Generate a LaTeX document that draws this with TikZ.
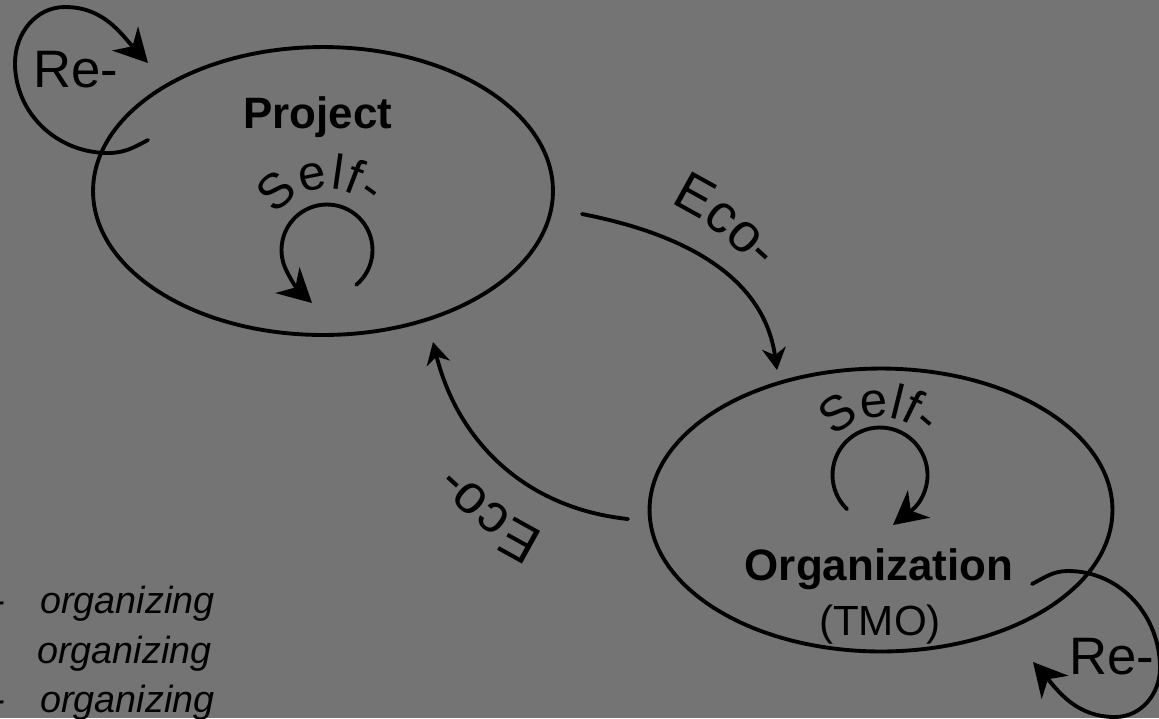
\documentclass[tikz,border=0pt]{standalone}
\usepackage{fontspec}
\setmainfont{Liberation Sans}
\usetikzlibrary{arrows.meta,shapes.geometric,decorations.text}
\definecolor{bgc}{RGB}{116,116,116}
\newcommand\selff{\fontsize{28pt}{32pt}\selectfont}
\newcommand\ecof{\fontsize{31pt}{35pt}\selectfont}
\tikzset{
  ln/.style={line width=2.2pt, draw=black, line cap=round},
  bigtip/.style={-{Stealth[length=19pt,width=20pt,inset=6pt]}},
  ecotip/.style={-{Stealth[length=12.5pt,width=13.5pt,inset=4pt]}},
  oval/.style={ellipse, draw=black, line width=2.2pt, inner sep=0pt},
  title/.style={inner sep=0pt, font=\fontsize{25pt}{29pt}\selectfont\bfseries},
  sub/.style={inner sep=0pt, font=\fontsize{24pt}{28pt}\selectfont},
  relbl/.style={inner sep=0pt, font=\fontsize{30pt}{34pt}\selectfont},
  leg/.style={inner sep=0pt, font=\fontsize{21.5pt}{25pt}\selectfont\itshape},
  arctext/.style={decorate, decoration={text along path, text={#1}, text align={fit to path}}}
}
\begin{document}
\begin{tikzpicture}[x=0.02cm, y=0.02cm]
\useasboundingbox (0,0) rectangle (1159,-718);
\fill[bgc] (0,0) rectangle (1159,-718);
\clip (0,0) rectangle (1159,-718);

% main ellipses
\node[oval, minimum width=9.2cm, minimum height=5.76cm] (proj) at (323,-191) {};
\node[oval, minimum width=9.26cm, minimum height=5.66cm] (org) at (881,-510) {};

% titles
\node[title, anchor=base] (projt) at (318,-128) {Project};
\node[title, anchor=base] (orgt) at (879,-580) {Organization};
\node[sub, anchor=base] (tmo) at (880,-635) {(TMO)};

% self loops
\coordinate (pLc) at (327,-250);
\coordinate (pLe) at (312,-303);
\draw[ln, bigtip] (pLc) ++(-50:0.91cm) arc[start angle=-50, end angle=205, radius=0.91cm]
   to[out=295, in=137] (pLe);
\path[arctext={|\selff|Self-}] (pLc) ++(146:1.22cm) arc[start angle=146, end angle=46, radius=1.22cm];

\coordinate (oLc) at (880,-475);
\coordinate (oLe) at (893,-525);
\draw[ln, bigtip] (oLc) ++(226:0.95cm) arc[start angle=226, end angle=-15, radius=0.95cm]
   to[out=-105, in=39] (oLe);
\path[arctext={|\selff|Self-}] (oLc) ++(141:1.16cm) arc[start angle=141, end angle=45, radius=1.16cm];

% re loops
\coordinate (reAs) at (148,-140);
\coordinate (reAe) at (148,-63);
\draw[ln, bigtip] (reAs) to[out=208, in=0] (108,-153) to[out=180, in=-90] (15,-63)
   to[out=90, in=180] (65,-7) to[out=0, in=133] (reAe);
\node[relbl, anchor=base west] (reA) at (33,-87) {Re-};

\coordinate (reBs) at (1032,-584);
\coordinate (reBe) at (1033,-662);
\draw[ln, bigtip] (reBs) to[out=27, in=180] (1068,-571) to[out=0, in=90] (1160,-668)
   to[out=-90, in=0] (1115,-717) to[out=180, in=-49] (reBe);
\node[relbl, anchor=base west] (reB) at (1069,-674) {Re-};

% eco arrows
\coordinate (ecoAs) at (582,-214);
\coordinate (ecoAe) at (777,-370);
\draw[ln, ecotip] (ecoAs) to[out=-11, in=98] (ecoAe);
\path[arctext={|\ecof|Eco-}] (670,-203) to[out=-24, in=138] (756,-268);

\coordinate (ecoBs) at (628,-519);
\coordinate (ecoBe) at (433,-342);
\draw[ln, ecotip] (ecoBs) to[out=174, in=-76] (ecoBe);
\path[arctext={|\ecof|Eco-}] (545,-533) to[out=156, in=-42] (458,-467);

% legend
\node[leg, anchor=base east] (d1) at (5,-613) {-};
\node[leg, anchor=base west] (l1) at (40,-613) {organizing};
\node[leg, anchor=base west] (l2) at (37,-663) {organizing};
\node[leg, anchor=base east] (d3) at (5,-712) {-};
\node[leg, anchor=base west] (l3) at (40,-712) {organizing};
\end{tikzpicture}
\end{document}
